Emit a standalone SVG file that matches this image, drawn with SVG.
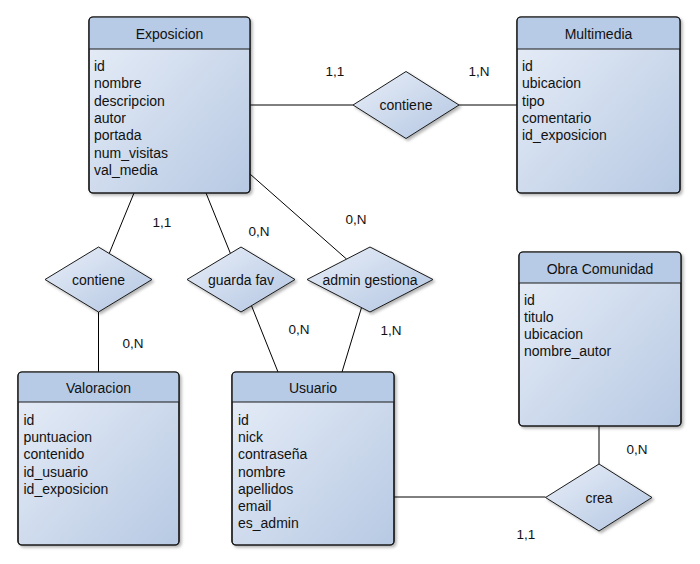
<svg xmlns="http://www.w3.org/2000/svg" width="700" height="564" viewBox="0 0 700 564">
<defs>
<linearGradient id="body" x1="0" y1="0" x2="1" y2="1">
<stop offset="0" stop-color="#e8eef8"/>
<stop offset="1" stop-color="#b7c9e3"/>
</linearGradient>
<linearGradient id="dia" x1="0" y1="0" x2="1" y2="1">
<stop offset="0" stop-color="#e8eef8"/>
<stop offset="1" stop-color="#b3c6e2"/>
</linearGradient>
<filter id="sh" x="-10%" y="-10%" width="130%" height="130%">
<feDropShadow dx="2" dy="2" stdDeviation="1.5" flood-color="#000" flood-opacity="0.3"/>
</filter>
</defs>
<style>
text{font-family:"Liberation Sans",Arial,sans-serif;font-size:14px;fill:#111}
.hdr{text-anchor:middle}
.card{font-size:13.5px;text-anchor:middle}
.dl{text-anchor:middle}
.box{fill:url(#body);stroke:#1a1a1a;stroke-width:1.2;filter:url(#sh)}
.head{fill:#b8cbe6;stroke:none}
.sep{stroke:#1a1a1a;stroke-width:1}
.frame{fill:none;stroke:#1a1a1a;stroke-width:1.2}
.dm{fill:url(#dia);stroke:#1a1a1a;stroke-width:1;filter:url(#sh)}
.ln{stroke:#000;stroke-width:1;fill:none}
</style>

<g id="connectors">
<line class="ln" x1="250" y1="105" x2="353" y2="105"/>
<line class="ln" x1="459" y1="105" x2="517" y2="105"/>
<line class="ln" x1="134" y1="193" x2="109.2" y2="253.5"/>
<line class="ln" x1="98.5" y1="312" x2="98.5" y2="372"/>
<line class="ln" x1="206" y1="193" x2="230.4" y2="253.4"/>
<line class="ln" x1="251.5" y1="305.7" x2="278" y2="372"/>
<line class="ln" x1="250" y1="174" x2="346.6" y2="259.1"/>
<line class="ln" x1="361.5" y1="307.6" x2="342" y2="372"/>
<line class="ln" x1="599" y1="426" x2="599" y2="464"/>
<line class="ln" x1="394" y1="497" x2="545.5" y2="497"/>
<text class="card" x="335" y="76">1,1</text>
<text class="card" x="479" y="76">1,N</text>
<text class="card" x="162" y="227">1,1</text>
<text class="card" x="259" y="235.5">0,N</text>
<text class="card" x="356" y="224">0,N</text>
<text class="card" x="133" y="348">0,N</text>
<text class="card" x="299" y="334">0,N</text>
<text class="card" x="391" y="335">1,N</text>
<text class="card" x="637" y="454">0,N</text>
<text class="card" x="526" y="539">1,1</text>
</g>

<g id="exposicion">
<rect class="box" x="89" y="17" width="161" height="176" rx="4"/>
<path class="head" d="M89.6,49 V21 a4,4 0 0 1 4,-3.4 H245.6 a4,4 0 0 1 4,3.4 V49 Z"/>
<line class="sep" x1="89" y1="49" x2="250" y2="49"/>
<rect class="frame" x="89" y="17" width="161" height="176" rx="4"/>
<text class="hdr" x="169.5" y="38.5">Exposicion</text>
<text x="94" y="71"><tspan x="94">id</tspan><tspan x="94" dy="17.3">nombre</tspan><tspan x="94" dy="17.3">descripcion</tspan><tspan x="94" dy="17.3">autor</tspan><tspan x="94" dy="17.3">portada</tspan><tspan x="94" dy="17.3">num_visitas</tspan><tspan x="94" dy="17.3">val_media</tspan></text>
</g>

<g id="multimedia">
<rect class="box" x="517" y="17" width="163" height="176" rx="4"/>
<path class="head" d="M517.6,49 V21 a4,4 0 0 1 4,-3.4 H675.6 a4,4 0 0 1 4,3.4 V49 Z"/>
<line class="sep" x1="517" y1="49" x2="680" y2="49"/>
<rect class="frame" x="517" y="17" width="163" height="176" rx="4"/>
<text class="hdr" x="598.5" y="39">Multimedia</text>
<text x="522" y="71"><tspan x="522">id</tspan><tspan x="522" dy="17.3">ubicacion</tspan><tspan x="522" dy="17.3">tipo</tspan><tspan x="522" dy="17.3">comentario</tspan><tspan x="522" dy="17.3">id_exposicion</tspan></text>
</g>

<g id="obra-comunidad">
<rect class="box" x="519" y="252" width="162" height="174" rx="4"/>
<path class="head" d="M519.6,283 V256 a4,4 0 0 1 4,-3.4 H676.6 a4,4 0 0 1 4,3.4 V283 Z"/>
<line class="sep" x1="519" y1="283" x2="681" y2="283"/>
<rect class="frame" x="519" y="252" width="162" height="174" rx="4"/>
<text class="hdr" x="600" y="274">Obra Comunidad</text>
<text x="524" y="305"><tspan x="524">id</tspan><tspan x="524" dy="17">titulo</tspan><tspan x="524" dy="17">ubicacion</tspan><tspan x="524" dy="17">nombre_autor</tspan></text>
</g>

<g id="valoracion">
<rect class="box" x="18" y="372" width="161" height="173" rx="4"/>
<path class="head" d="M18.6,402 V376 a4,4 0 0 1 4,-3.4 H174.6 a4,4 0 0 1 4,3.4 V402 Z"/>
<line class="sep" x1="18" y1="402" x2="179" y2="402"/>
<rect class="frame" x="18" y="372" width="161" height="173" rx="4"/>
<text class="hdr" x="98.5" y="393">Valoracion</text>
<text x="23.5" y="425"><tspan x="23.5">id</tspan><tspan x="23.5" dy="17.2">puntuacion</tspan><tspan x="23.5" dy="17.2">contenido</tspan><tspan x="23.5" dy="17.2">id_usuario</tspan><tspan x="23.5" dy="17.2">id_exposicion</tspan></text>
</g>

<g id="usuario">
<rect class="box" x="232" y="372" width="162" height="173" rx="4"/>
<path class="head" d="M232.6,402 V376 a4,4 0 0 1 4,-3.4 H389.6 a4,4 0 0 1 4,3.4 V402 Z"/>
<line class="sep" x1="232" y1="402" x2="394" y2="402"/>
<rect class="frame" x="232" y="372" width="162" height="173" rx="4"/>
<text class="hdr" x="313" y="393">Usuario</text>
<text x="238" y="425"><tspan x="238">id</tspan><tspan x="238" dy="17.2">nick</tspan><tspan x="238" dy="17.2">contraseña</tspan><tspan x="238" dy="17.2">nombre</tspan><tspan x="238" dy="17.2">apellidos</tspan><tspan x="238" dy="17.2">email</tspan><tspan x="238" dy="17.2">es_admin</tspan></text>
</g>

<g id="rel-contiene-multimedia">
<polygon class="dm" points="406,71.5 459,105 406,138.5 353,105"/>
<text class="dl" x="406" y="110">contiene</text>
</g>

<g id="rel-contiene-valoracion">
<polygon class="dm" points="98.5,247 152,279.5 98.5,312 45,279.5"/>
<text class="dl" x="98.5" y="284.5">contiene</text>
</g>

<g id="rel-guarda-fav">
<polygon class="dm" points="241,247 295,279.5 241,312 187,279.5"/>
<text class="dl" x="241" y="284.5">guarda fav</text>
</g>

<g id="rel-admin-gestiona">
<polygon class="dm" points="370,247 433,279.5 370,312 307,279.5"/>
<text class="dl" x="370" y="284.5">admin gestiona</text>
</g>

<g id="rel-crea">
<polygon class="dm" points="599,464 652,497.5 599,531 545.5,497.5"/>
<text class="dl" x="599" y="502.5">crea</text>
</g>
</svg>
